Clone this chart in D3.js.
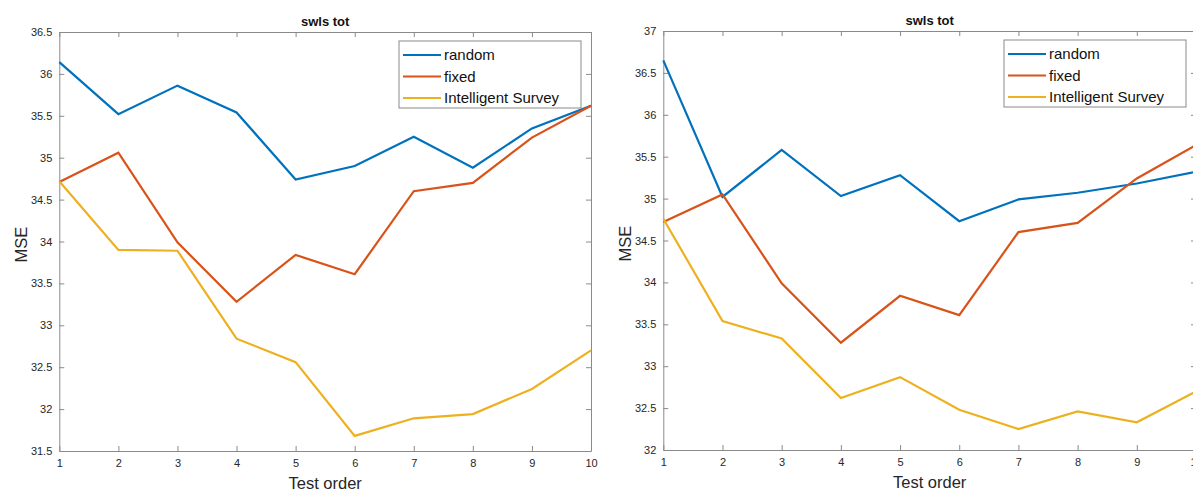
<!DOCTYPE html>
<html lang="en">
<head>
  <meta charset="UTF-8">
  <title>swls tot - MSE by test order</title>
  <script src="https://d3js.org/d3.v7.min.js"></script>
  <style>
    body {
      margin: 0;
      background: #fff;
      overflow: hidden;
      font-family: "Liberation Sans", Arial, sans-serif;
    }
    .tick text {
      font-size: 11px;
      fill: #262626;
    }
    .tick line, .domain {
      stroke: #8a8a8a;
    }
    .line {
      fill: none;
      stroke-width: 2.2px;
    }
    .title {
      font-size: 13px;
      font-weight: bold;
      fill: #111;
    }
    .axis-label {
      font-size: 16.5px;
      fill: #262626;
    }
    .legend text {
      font-size: 15px;
      fill: #111;
    }
  </style>
</head>
<body>
  <svg id="chart" width="1193" height="491"></svg>

  <script>
    // test order on the x axis
    const testOrder = [1, 2, 3, 4, 5, 6, 7, 8, 9, 10];
    const seriesNames = ["random", "fixed", "Intelligent Survey"];

    // left panel MSE values
    const leftRandom = [36.14, 35.52, 35.86, 35.54, 34.74, 34.90, 35.25, 34.88, 35.35, 35.62];
    const leftFixed = [34.71, 35.06, 33.99, 33.28, 33.84, 33.61, 34.60, 34.70, 35.24, 35.62];
    const leftIntelligent = [34.72, 33.90, 33.89, 32.84, 32.56, 31.68, 31.89, 31.94, 32.24, 32.70];

    // right panel MSE values
    const rightRandom = [36.65, 35.02, 35.58, 35.03, 35.28, 34.73, 34.99, 35.07, 35.18, 35.32];
    const rightFixed = [34.72, 35.05, 33.99, 33.28, 33.84, 33.61, 34.60, 34.71, 35.24, 35.64];
    const rightIntelligent = [34.76, 33.54, 33.33, 32.62, 32.87, 32.48, 32.25, 32.46, 32.33, 32.70];

    // y tick labels per panel
    const leftYTicks = [31.5, 32, 32.5, 33, 33.5, 34, 34.5, 35, 35.5, 36, 36.5];
    const rightYTicks = [32, 32.5, 33, 33.5, 34, 34.5, 35, 35.5, 36, 36.5, 37];

    const color = d3.scaleOrdinal()
                    .domain(seriesNames)
                    .range(["#0072BD", "#D95319", "#EDB120"]);

    const panels = [
      { left: 59.3, right: 591, top: 32, bottom: 451, yTicks: leftYTicks,
        series: [leftRandom, leftFixed, leftIntelligent] },
      { left: 663.3, right: 1196, top: 31, bottom: 450, yTicks: rightYTicks,
        series: [rightRandom, rightFixed, rightIntelligent] }
    ];

    const svg = d3.select("#chart");

    panels.forEach(p => {
      const x = d3.scaleLinear()
                  .domain([1, 10])
                  .range([p.left, p.right]);

      const y = d3.scaleLinear()
                  .domain([p.yTicks[0], p.yTicks[p.yTicks.length - 1]])
                  .range([p.bottom, p.top]);

      const g = svg.append("g");

      // MATLAB style box: ticks point inward on all four sides
      g.append("g")
       .attr("transform", `translate(0,${p.bottom})`)
       .call(d3.axisBottom(x).tickValues(testOrder).tickSizeInner(-5).tickSizeOuter(0).tickPadding(8));

      g.append("g")
       .attr("transform", `translate(${p.left},0)`)
       .call(d3.axisLeft(y).tickValues(p.yTicks).tickFormat(d => String(d))
               .tickSizeInner(-5).tickSizeOuter(0).tickPadding(7));

      g.append("g")
       .attr("transform", `translate(0,${p.top})`)
       .call(d3.axisTop(x).tickValues(testOrder).tickFormat("").tickSizeInner(-5).tickSizeOuter(0));

      g.append("g")
       .attr("transform", `translate(${p.right},0)`)
       .call(d3.axisRight(y).tickValues(p.yTicks).tickFormat("").tickSizeInner(-5).tickSizeOuter(0));

      const line = d3.line()
                     .x((d, i) => x(testOrder[i]))
                     .y(d => y(d));

      p.series.forEach((values, i) => {
        g.append("path")
         .datum(values)
         .attr("class", "line")
         .attr("d", line)
         .attr("stroke", color(seriesNames[i]));
      });

      const cx = (p.left + p.right) / 2;

      g.append("text")
       .attr("class", "title")
       .attr("x", cx)
       .attr("y", p.top - 6)
       .attr("text-anchor", "middle")
       .text("swls tot");

      g.append("text")
       .attr("class", "axis-label")
       .attr("x", cx)
       .attr("y", p.bottom + 38)
       .attr("text-anchor", "middle")
       .text("Test order");

      g.append("text")
       .attr("class", "axis-label")
       .attr("transform", `translate(${p.left - 32},${(p.top + p.bottom) / 2 + 3}) rotate(-90)`)
       .attr("text-anchor", "middle")
       .text("MSE");

      // legend, top right corner of the plot box
      const lgW = 182, lgH = 67;
      const legend = g.append("g")
        .attr("class", "legend")
        .attr("transform", `translate(${p.right - 10 - lgW},${p.top + 9})`);

      legend.append("rect")
        .attr("width", lgW)
        .attr("height", lgH)
        .attr("fill", "#fff")
        .attr("stroke", "#8a8a8a");

      seriesNames.forEach((name, i) => {
        const ly = 14 + i * 21.5;
        legend.append("line")
          .attr("x1", 4).attr("x2", 42)
          .attr("y1", ly).attr("y2", ly)
          .attr("stroke", color(name))
          .attr("stroke-width", 2.2);
        legend.append("text")
          .attr("x", 45)
          .attr("y", ly)
          .attr("dy", "0.35em")
          .text(name);
      });
    });
  </script>
</body>
</html>
